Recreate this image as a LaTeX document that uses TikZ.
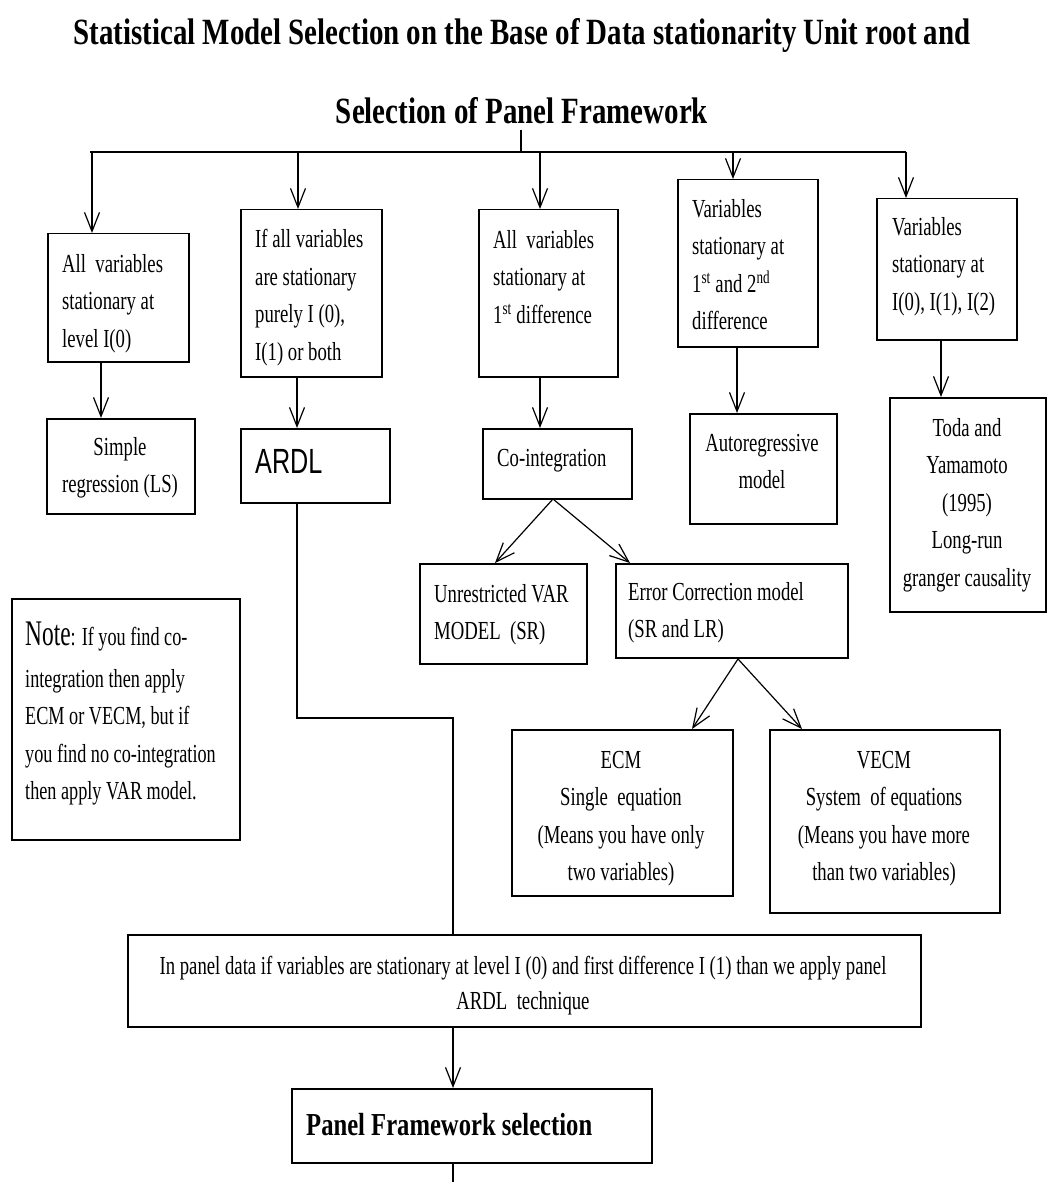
\documentclass[tikz,border=0pt]{standalone}
\usepackage{fontspec}
\usetikzlibrary{arrows.meta}
\newfontfamily\bodyf{Liberation Serif}[FakeStretch=0.72]
\newfontfamily\notebf{Liberation Serif}[FakeStretch=0.70]
\newfontfamily\titlef{Liberation Serif}[FakeStretch=0.782]
\newfontfamily\pfsf{Liberation Serif}[FakeStretch=0.77]
\newfontfamily\notef{Liberation Serif}[FakeStretch=0.65]
\newfontfamily\ardlf{Liberation Sans}[FakeStretch=0.72]
\tikzset{
  boxn/.style={draw, line width=1.5pt, inner sep=0pt, anchor=north west},
  txt/.style={inner sep=0pt, anchor=north west, align=left, font=\bodyf\fontsize{26}{37.5}\selectfont},
  ctxt/.style={inner sep=0pt, anchor=north, align=center, font=\bodyf\fontsize{26}{37.5}\selectfont},
  ln/.style={line width=1.2pt},
  arr/.style={line width=1.2pt, -{Straight Barb[length=19pt,width=15pt,line width=1.2pt]}}
}
\begin{document}
\begin{tikzpicture}[x=1pt,y=-1pt]
\useasboundingbox (0,0) rectangle (1047,1182);
% title
\node[inner sep=0pt, anchor=north, align=center, font=\titlef\bfseries\fontsize{37}{79}\selectfont] (title) at (522,18)
  {Statistical Model Selection on the Base of Data stationarity Unit root and\\Selection of Panel Framework};
% first row boxes
\node[boxn, minimum width=141pt, minimum height=128pt] (b1) at (47,233) {};
\node[boxn, minimum width=141pt, minimum height=167pt] (b2) at (240,209) {};
\node[boxn, minimum width=139pt, minimum height=167pt] (b3) at (478,209) {};
\node[boxn, minimum width=140pt, minimum height=167pt] (b4) at (677,179) {};
\node[boxn, minimum width=140pt, minimum height=141pt] (b5) at (876,198) {};
\node[txt] (t1) at (62,254) {All\ \ variables\\stationary at\\level I(0)};
\node[txt] (t2) at (255,229) {If all variables\\are stationary\\purely I (0),\\I(1) or both};
\node[txt] (t3) at (493,230) {All\ \ variables\\stationary at\\1\textsuperscript{st} difference};
\node[txt] (t4) at (692,199) {Variables\\stationary at\\1\textsuperscript{st} and 2\textsuperscript{nd}\\difference};
\node[txt] (t5) at (892,217) {Variables\\stationary at\\I(0), I(1), I(2)};
% second row boxes
\node[boxn, minimum width=148pt, minimum height=95pt] (c1) at (46,418) {};
\node[boxn, minimum width=149pt, minimum height=74pt] (c2) at (240,428) {};
\node[boxn, minimum width=149pt, minimum height=70pt] (c3) at (482,428) {};
\node[boxn, minimum width=147pt, minimum height=110pt] (c4) at (689,413) {};
\node[boxn, minimum width=156pt, minimum height=214pt] (c5) at (889,397) {};
\node[ctxt] (u1) at (120,437) {Simple\\regression (LS)};
\node[inner sep=0pt, anchor=north west, font=\ardlf\fontsize{35}{40}\selectfont] (u2) at (255,449) {ARDL};
\node[txt] (u3) at (497,449) {Co-integration};
\node[ctxt] (u4) at (762,434) {Autoregressive\\model};
\node[ctxt] (u5) at (967,418) {Toda and\\Yamamoto\\(1995)\\Long-run\\granger causality};
% third row
\node[boxn, minimum width=167pt, minimum height=100pt] (d1) at (419,563) {};
\node[boxn, minimum width=232pt, minimum height=94pt] (d2) at (615,563) {};
\node[txt] (v1) at (434,584) {Unrestricted VAR\\MODEL\ \ (SR)};
\node[txt] (v2) at (628,582) {Error Correction model\\(SR and LR)};
% fourth row
\node[boxn, minimum width=221pt, minimum height=166pt] (e1) at (511,729) {};
\node[boxn, minimum width=230pt, minimum height=183pt] (e2) at (769,729) {};
\node[ctxt] (w1) at (621,751) {ECM\\Single\ \ equation\\(Means you have only\\two variables)};
\node[ctxt] (w2) at (884,751) {VECM\\System\ \ of equations\\(Means you have more\\than two variables)};
% note
\node[boxn, minimum width=228pt, minimum height=241pt] (note) at (11,598) {};
\node[txt, font=\notebf\fontsize{26}{37.5}\selectfont] (notet) at (25,622) {{\notef\fontsize{36}{37.5}\selectfont Note}: If you find co-\\[4pt]integration then apply\\ECM or VECM, but if\\you find no co-integration\\then apply VAR model.};
% panel
\node[boxn, minimum width=793pt, minimum height=92pt] (panel) at (127,934) {};
\node[ctxt, font=\bodyf\fontsize{26}{35}\selectfont] (panelt) at (523,956) {In panel data if variables are stationary at level I (0) and first difference I (1) than we apply panel\\ARDL\ \ technique};
\node[boxn, minimum width=360pt, minimum height=74pt] (pfs) at (291,1088) {};
\node[inner sep=0pt, anchor=north west, font=\pfsf\bfseries\fontsize{32}{36}\selectfont] (pfst) at (306,1113) {Panel Framework selection};
% connectors
\coordinate (ts) at (521,130);
\coordinate (tj) at (521,152);
\coordinate (bl) at (90,152);
\coordinate (br) at (906,152);
\coordinate (k1) at (92,152);
\coordinate (k2) at (298,152);
\coordinate (k3) at (540,152);
\coordinate (k4) at (733,152);
\coordinate (k5) at (906,152);
\draw[ln] (ts) -- (tj);
\draw[ln] (bl) -- (br);
\draw[arr] (k1) -- (k1 |- b1.north);
\draw[arr] (k2) -- (k2 |- b2.north);
\draw[arr] (k3) -- (k3 |- b3.north);
\draw[arr] (k4) -- (k4 |- b4.north);
\draw[arr] (k5) -- (k5 |- b5.north);
\coordinate (m1) at (101,0);
\coordinate (m2) at (297,0);
\coordinate (m3) at (540,0);
\coordinate (m4) at (737,0);
\coordinate (m5) at (941,0);
\draw[arr] (b1.south -| m1) -- (c1.north -| m1);
\draw[arr] (b2.south -| m2) -- (c2.north -| m2);
\draw[arr] (b3.south -| m3) -- (c3.north -| m3);
\draw[arr] (b4.south -| m4) -- (c4.north -| m4);
\draw[arr] (b5.south -| m5) -- (c5.north -| m5);
\coordinate (a1) at (553,499);
\coordinate (g1) at (495,0);
\coordinate (g2) at (630,0);
\draw[arr] (a1) -- (d1.north -| g1);
\draw[arr] (a1) -- (d2.north -| g2);
\coordinate (a2) at (738,659);
\coordinate (g3) at (692,0);
\coordinate (g4) at (802,0);
\draw[arr] (a2) -- (e1.north -| g3);
\draw[arr] (a2) -- (e2.north -| g4);
\coordinate (r1) at (297,718);
\coordinate (r2) at (453,718);
\draw[ln] (c2.south -| r1) -- (r1) -- (r2) -- (panel.north -| r2);
\draw[arr] (panel.south -| r2) -- (pfs.north -| r2);
\coordinate (bot) at (453,1182);
\draw[ln] (pfs.south -| r2) -- (bot);
\end{tikzpicture}
\end{document}
